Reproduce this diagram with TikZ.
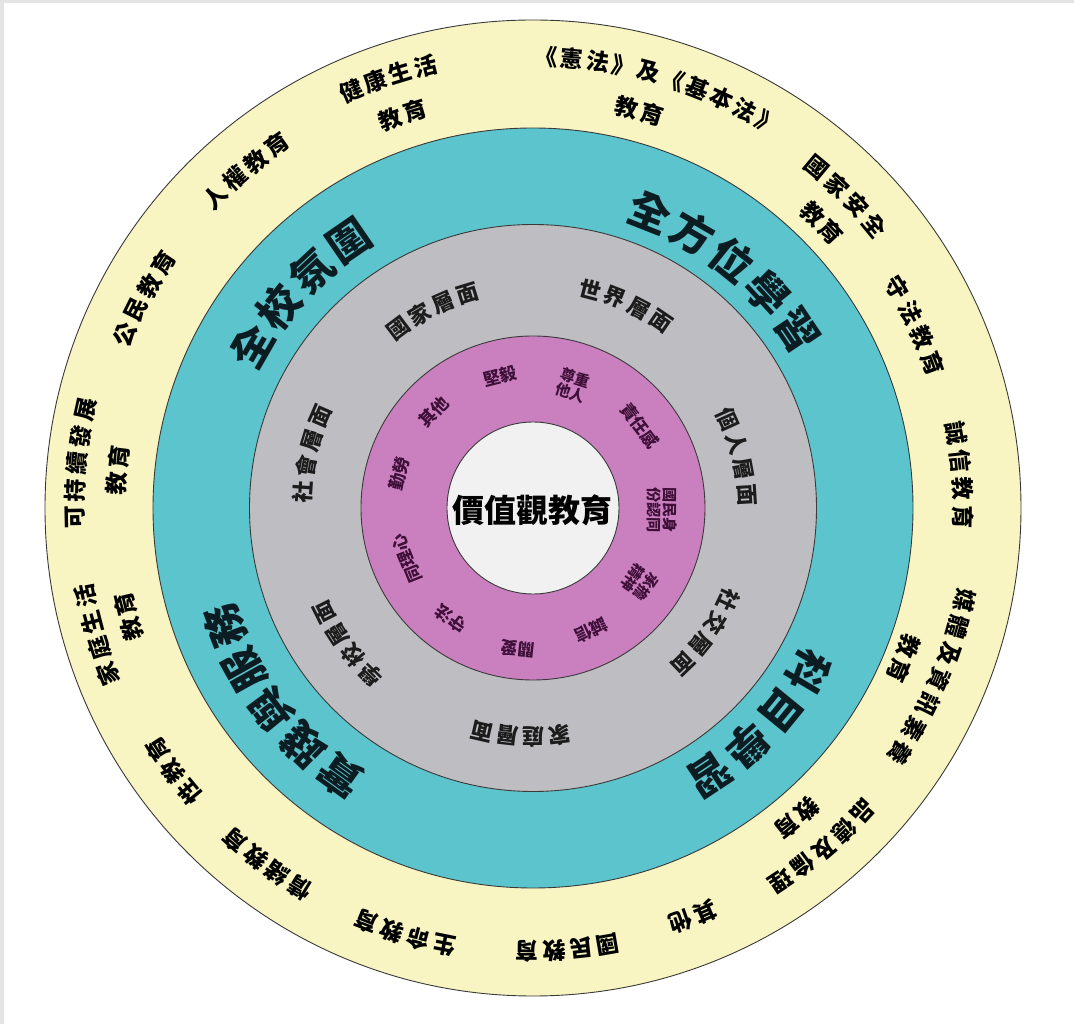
\documentclass[tikz,border=0pt]{standalone}
\usepackage{fontspec}
\newfontfamily\cjk{Noto Sans CJK TC}
\definecolor{yellowc}{HTML}{F9F5C2}
\definecolor{tealc}{HTML}{5BC4CC}
\definecolor{grayc}{HTML}{BEBEC2}
\definecolor{pinkc}{HTML}{CA7FBE}
\definecolor{corec}{HTML}{F1F1F1}
\definecolor{linec}{HTML}{3A3A3A}
\definecolor{tealtext}{HTML}{0B1D22}
\definecolor{graytext}{HTML}{1C1C1C}
\definecolor{pinktext}{HTML}{3E0F38}
\definecolor{stripc}{HTML}{E4E4E4}
% #1 name, #2 radius, #3 centre angle, #4 advance, #5 count, #6 style, #7 chars
\newcommand\arctxt[7]{%
  \foreach \ch [count=\i] in {#7} {%
    \pgfmathsetmacro\ang{#3-(\i-(#5+1)/2)*#4/#2*57.29578}%
    \node[#6, rotate=\ang-90] (#1-\i) at (\ang:#2) {\ch};
  }}
% #1 name, #2 angle, #3 radius, #4 style, #5 text
\newcommand\ptxt[5]{%
  \node[#4, rotate=#2-90] (#1) at (#2:#3) {#5};}
\begin{document}
\begin{tikzpicture}[x=1pt,y=1pt,
  ring/.style={circle, draw=linec, line width=0.9pt, inner sep=0pt, outer sep=0pt},
  yt/.style={font=\cjk\bfseries\fontsize{23}{23}\selectfont, inner sep=0pt, text=black},
  tt/.style={font=\cjk\bfseries\fontsize{42}{42}\selectfont, inner sep=0pt, text=tealtext},
  gt/.style={font=\cjk\bfseries\fontsize{22}{22}\selectfont, inner sep=0pt, text=graytext},
  pinkone/.style={font=\cjk\bfseries\fontsize{17}{18}\selectfont, inner sep=0pt, align=center, text=pinktext},
  pinktwo/.style={font=\cjk\bfseries\fontsize{15}{16}\selectfont, inner sep=0pt, align=center, text=pinktext},
  coretxt/.style={font=\cjk\bfseries\fontsize{32}{32}\selectfont, inner sep=0pt, text=black}]
\path[use as bounding box] (-533,-516) rectangle (541,508);
\fill[white] (-533,-516) rectangle (541,508);
\fill[stripc] (-533,505) rectangle (541,508);
\fill[stripc] (-533,-516) rectangle (-529,508);
% rings
\node[ring, fill=yellowc, minimum size=976] (outer) at (0,0) {};
\node[ring, fill=tealc, minimum size=760] (teal) at (0,0) {};
\node[ring, fill=grayc, minimum size=567] (gray) at (0,0) {};
\node[ring, fill=pinkc, minimum size=344] (pink) at (0,0) {};
\node[ring, fill=corec, minimum size=172] (core) at (0,0) {};
\node[coretxt] (coretext) at (0,-2) {價值觀教育};
% outer ring (yellow)
\arctxt{ya}{455}{108.6}{26}{4}{yt}{健,康,生,活}
\arctxt{yab}{414}{108.4}{26}{2}{yt}{教,育}
\arctxt{yb}{451}{73.5}{26}{10}{yt}{《,憲,法,》,及,《,基,本,法,》}
\arctxt{ybb}{411}{75}{26}{2}{yt}{教,育}
\arctxt{yc}{443}{44.9}{27.5}{4}{yt}{國,家,安,全}
\arctxt{ycb}{406}{44.6}{26}{2}{yt}{教,育}
\arctxt{yd}{425}{25.5}{28}{4}{yt}{守,法,教,育}
\arctxt{ye}{430}{4.4}{28}{4}{yt}{誠,信,教,育}
\arctxt{yf}{441}{-22.9}{27.7}{7}{yt}{媒,體,及,資,訊,素,養}
\arctxt{yfb}{400}{-22.1}{26}{2}{yt}{教,育}
\arctxt{yg}{448}{-49.5}{27}{5}{yt}{品,德,及,倫,理}
\arctxt{ygb}{407}{-49.6}{26}{2}{yt}{教,育}
\arctxt{yh}{439}{-68.6}{27}{2}{yt}{其,他}
\arctxt{yi}{443}{-85.5}{27}{4}{yt}{國,民,教,育}
\arctxt{yj}{446}{-106.7}{27}{4}{yt}{生,命,教,育}
\arctxt{yk}{446}{-126.7}{27}{4}{yt}{情,緒,教,育}
\arctxt{yl}{446}{-143.8}{27}{3}{yt}{性,教,育}
\arctxt{ym}{456}{-163.8}{27}{4}{yt}{家,庭,生,活}
\arctxt{ymb}{419}{-165}{26}{2}{yt}{教,育}
\arctxt{yn}{458}{174.4}{27}{5}{yt}{可,持,續,發,展}
\arctxt{ynb}{417}{174.8}{26}{2}{yt}{教,育}
\arctxt{yo}{443}{151.7}{27}{4}{yt}{公,民,教,育}
\arctxt{yp}{444}{130.4}{27}{4}{yt}{人,權,教,育}
% teal ring
\arctxt{ta}{324}{137.3}{48}{4}{tt}{全,校,氛,圍}
\arctxt{tb}{318}{51.2}{48}{5}{tt}{全,方,位,學,習}
\arctxt{tc}{320}{-43.6}{48}{4}{tt}{科,目,學,習}
\arctxt{td}{330}{-142.4}{48}{5}{tt}{實,踐,與,服,務}
% gray ring
\arctxt{ga}{224}{117}{26}{4}{gt}{國,家,層,面}
\arctxt{gb}{226}{65.4}{26}{4}{gt}{世,界,層,面}
\arctxt{gc}{214}{14}{26}{4}{gt}{個,人,層,面}
\arctxt{gd}{216}{-35.7}{26}{4}{gt}{社,交,層,面}
\arctxt{ge}{229}{-93.2}{26}{4}{gt}{家,庭,層,面}
\arctxt{gf}{233}{-143.8}{26}{4}{gt}{學,校,層,面}
\arctxt{gg}{231}{166.3}{26}{4}{gt}{社,會,層,面}
% pink ring
\ptxt{va}{104}{136}{pinkone}{堅毅}
\ptxt{vb}{72}{129}{pinktwo}{尊重\\他人}
\ptxt{vc}{37.7}{135}{pinkone}{責任感}
\ptxt{vd}{-1}{129}{pinktwo}{國民身\\份認同}
\ptxt{ve}{-35}{130}{pinktwo}{承擔\\精神}
\ptxt{vf}{-64.6}{136}{pinkone}{誠信}
\ptxt{vg}{-96}{142}{pinkone}{關愛}
\ptxt{vh}{233.5}{138}{pinkone}{守法}
\ptxt{vi}{201.8}{136}{pinkone}{同理心}
\ptxt{vj}{165.6}{138}{pinkone}{勤勞}
\ptxt{vk}{135.9}{138}{pinkone}{其他}
\end{tikzpicture}
\end{document}
